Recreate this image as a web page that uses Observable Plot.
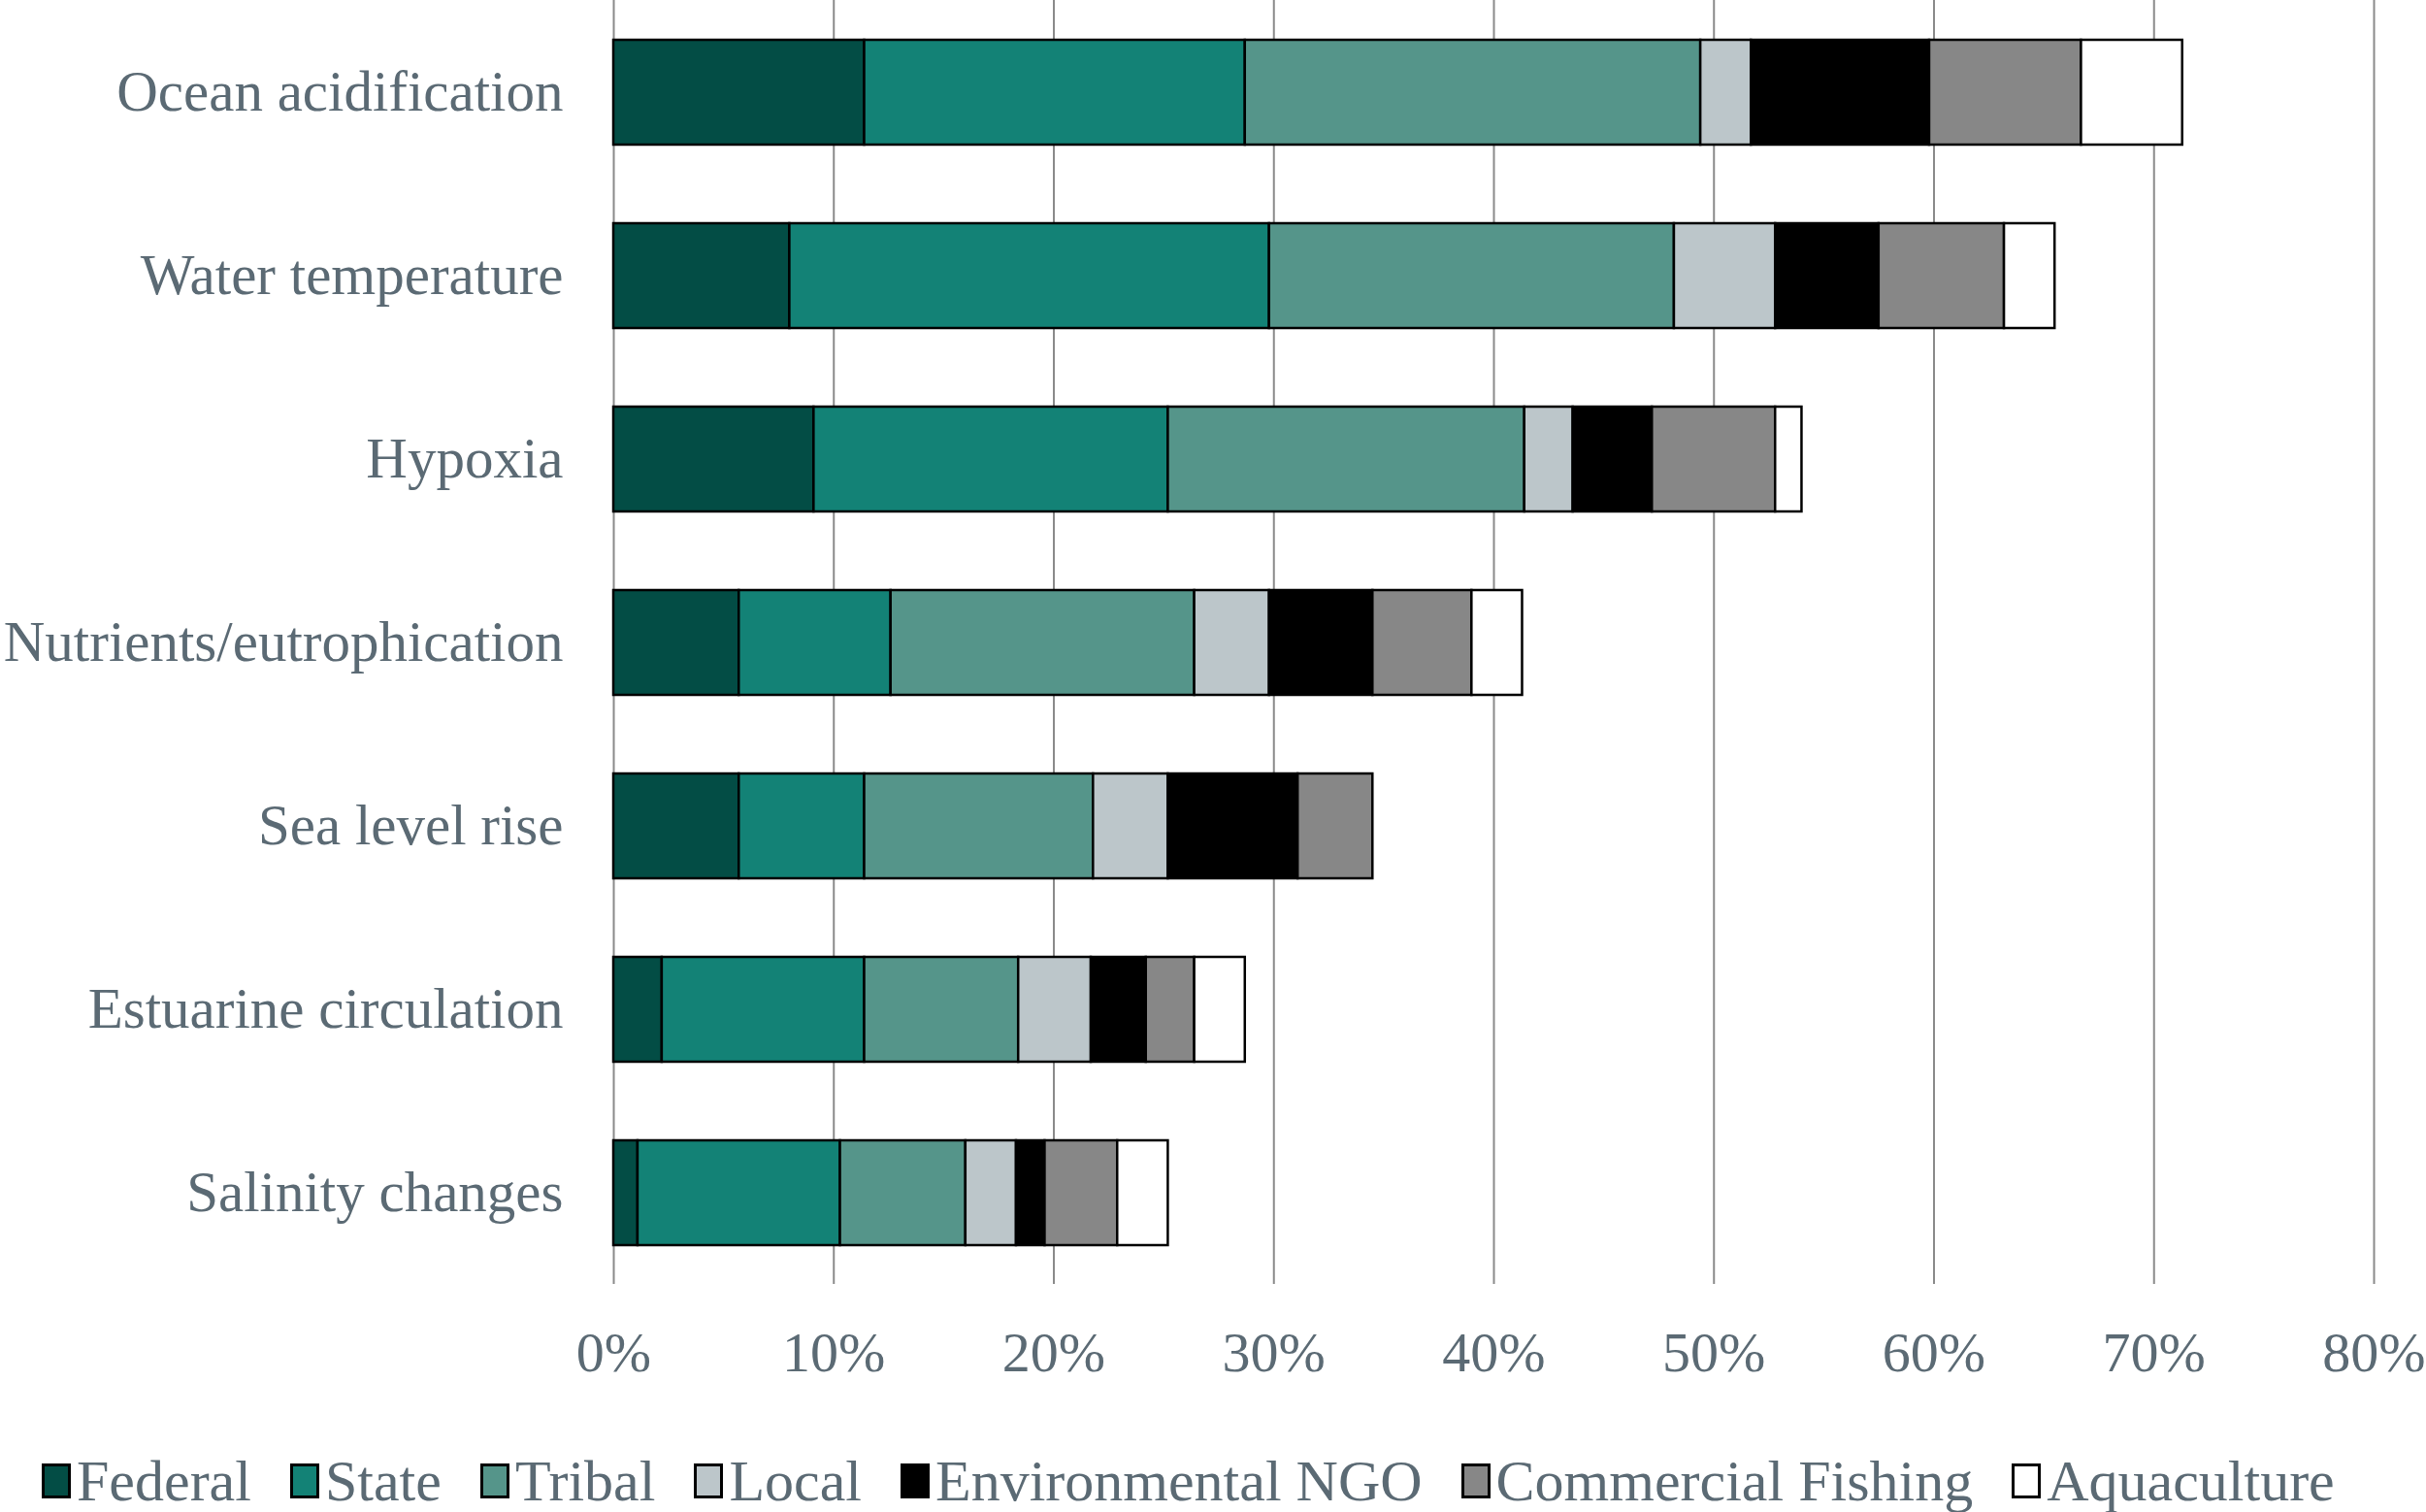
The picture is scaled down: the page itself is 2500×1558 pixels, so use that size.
<!DOCTYPE html>
<html>
<head>
<meta charset="utf-8">
<script src="https://cdn.jsdelivr.net/npm/d3@7"></script>
<script src="https://cdn.jsdelivr.net/npm/@observablehq/plot@0.6"></script>
<style>
  html, body { margin: 0; padding: 0; background: #fff; }
  #chart { width: 2500px; }
  #legend {
    display: flex; align-items: center; gap: 40px;
    margin-left: 43px; height: 108px; padding-top: 22px;
    font-family: "Liberation Serif", "Times New Roman", serif;
    font-size: 60px; color: #5b6a74;
  }
  .item { display: flex; align-items: center; gap: 6px; }
  .sw { width: 24px; height: 30px; border: 3px solid #000; box-sizing: content-box; }
</style>
</head>
<body>
<div id="chart"></div>
<div id="legend"></div>
<script>
const issues = ["Ocean acidification", "Water temperature", "Hypoxia", "Nutrients/eutrophication", "Sea level rise", "Estuarine circulation", "Salinity changes"];
const sectors = ["Federal", "State", "Tribal", "Local", "Environmental NGO", "Commercial Fishing", "Aquaculture"];
const sectorColors = ["#034d45", "#138276", "#55958a", "#bcc6ca", "#000000", "#878787", "#ffffff"];
// percent of respondents, one array per sector, in order of issues
const federal    = [11.4,  8.0,  9.1,  5.7,  5.7, 2.2, 1.1];
const state      = [17.3, 21.8, 16.1,  6.9,  5.7, 9.2, 9.2];
const tribal     = [20.7, 18.4, 16.2, 13.8, 10.4, 7.0, 5.7];
const local      = [ 2.3,  4.6,  2.2,  3.4,  3.4, 3.3, 2.3];
const ngo        = [ 8.1,  4.7,  3.6,  4.7,  5.9, 2.5, 1.3];
const commercial = [ 6.9,  5.7,  5.6,  4.5,  3.4, 2.2, 3.3];
const aquaculture= [ 4.6,  2.3,  1.2,  2.3,  0.0, 2.3, 2.3];
const xTicks = [0, 10, 20, 30, 40, 50, 60, 70, 80];

const series = [federal, state, tribal, local, ngo, commercial, aquaculture];
const rows = [];
issues.forEach((issue, i) => {
  sectors.forEach((s, j) => {
    if (series[j][i] > 0) rows.push({issue, sector: s, value: series[j][i]});
  });
});

const textColor = "#5b6a74";
const chart = Plot.plot({
  width: 2500,
  height: 1450,
  marginTop: 0,
  marginBottom: 127,
  marginLeft: 632,
  marginRight: 54,
  style: {fontFamily: "'Liberation Serif', 'Times New Roman', serif", fontSize: "58px", color: textColor, background: "#fff"},
  x: {domain: [0, 80], ticks: xTicks, tickFormat: d => d + "%", label: null},
  y: {domain: issues, paddingInner: 0.43, paddingOuter: 0.215, label: null},
  color: {domain: sectors, range: sectorColors},
  marks: [
    Plot.ruleX(xTicks, {stroke: "#8a8a8a", strokeWidth: 2, strokeOpacity: 1}),
    Plot.barX(rows, {x: "value", y: "issue", fill: "sector", stroke: "#000", strokeWidth: 2.5, order: null}),
    Plot.axisX({ticks: xTicks, tickFormat: d => d + "%", tickSize: 0, tickPadding: 48, fill: textColor, fontSize: 58, label: null}),
    Plot.axisY({tickSize: 0, tickPadding: 52, fill: textColor, fontSize: 59, label: null})
  ]
});
document.getElementById("chart").appendChild(chart);

const legend = document.getElementById("legend");
sectors.forEach((s, i) => {
  const item = document.createElement("div");
  item.className = "item";
  const sw = document.createElement("div");
  sw.className = "sw";
  sw.style.background = sectorColors[i];
  const t = document.createElement("span");
  t.textContent = s;
  item.appendChild(sw); item.appendChild(t);
  legend.appendChild(item);
});
</script>
</body>
</html>
